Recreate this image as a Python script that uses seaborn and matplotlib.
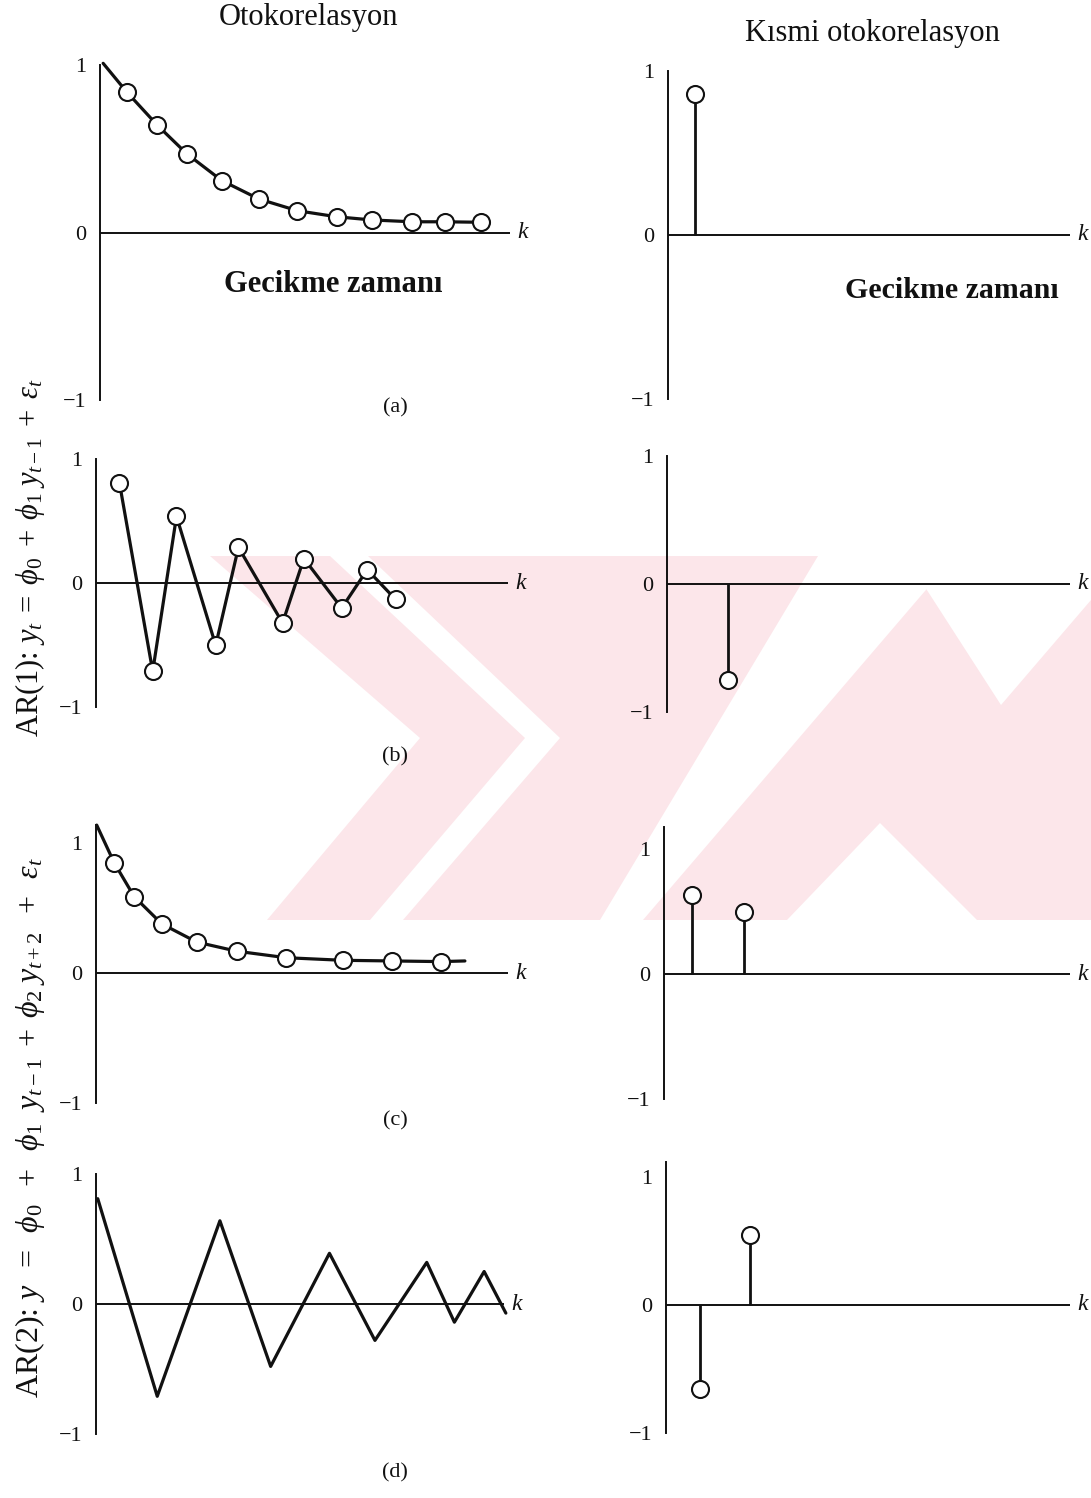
import matplotlib
matplotlib.use("Agg")
import matplotlib.pyplot as plt
from matplotlib.patches import Polygon
import seaborn as sns

W, H, DPI = 1091, 1498, 100

# ---- autocorrelation values (left column) ----
acf_a_lag = [0.76, 1.64, 2.48, 3.48, 4.54, 5.64, 6.76, 7.76, 8.91, 9.86, 10.88]
acf_a_val = [0.84, 0.64, 0.47, 0.31, 0.20, 0.13, 0.094, 0.075, 0.064, 0.064, 0.061]
acf_a_start_lag, acf_a_start_val = 0.09, 1.01

acf_b_lag = [0.67, 1.62, 2.30, 3.42, 4.07, 5.33, 5.94, 7.02, 7.75, 8.56]
acf_b_val = [0.81, -0.71, 0.54, -0.50, 0.29, -0.32, 0.20, -0.20, 0.11, -0.13]

acf_c_lag = [0.52, 1.09, 1.88, 2.88, 4.02, 5.43, 7.05, 8.45, 9.85]
acf_c_val = [0.85, 0.59, 0.38, 0.24, 0.17, 0.12, 0.10, 0.095, 0.09]
acf_c_start_lag, acf_c_start_val = 0.02, 1.14
acf_c_end_lag, acf_c_end_val = 10.54, 0.095

acf_d_lag = [0.05, 1.75, 3.54, 4.99, 6.67, 7.97, 9.45, 10.24, 11.09, 11.71]
acf_d_val = [0.81, -0.71, 0.64, -0.48, 0.39, -0.28, 0.32, -0.14, 0.25, -0.07]

# ---- partial autocorrelation values (right column) ----
pacf_a_lag, pacf_a_val = [0.77], [0.86]
pacf_b_lag, pacf_b_val = [1.74], [-0.75]
pacf_c_lag, pacf_c_val = [0.79, 2.29], [0.63, 0.50]
pacf_d_lag, pacf_d_val = [0.97, 2.40], [-0.66, 0.55]

tick_values = [-1, 0, 1]
tick_labels = ["\u22121", "0", "1"]

sns.set_theme(style="white")
plt.rcParams["font.family"] = ["Liberation Serif", "DejaVu Serif"]
plt.rcParams["mathtext.fontset"] = "custom"
plt.rcParams["mathtext.rm"] = "Liberation Serif"
plt.rcParams["mathtext.it"] = "Liberation Serif:italic"
plt.rcParams["mathtext.bf"] = "Liberation Serif:bold"

fig = plt.figure(figsize=(W / DPI, H / DPI), dpi=DPI)
fig.patch.set_facecolor("white")

PX_PER_LAG = 35.0
INK = "#111111"
WATERMARK = "#fce6ea"


def fig_poly(points, color, z):
    pts = [(x / W, 1 - y / H) for x, y in points]
    fig.add_artist(Polygon(pts, closed=True, transform=fig.transFigure,
                           facecolor=color, edgecolor="none", zorder=z))


# pale page watermark behind the panels
fig_poly([(200, 556), (1091, 556), (1091, 920), (200, 920)], WATERMARK, -3)
for cut in [
    [(0, 556), (210, 556), (420, 738), (267, 920), (0, 920)],
    [(330, 556), (368, 556), (560, 738), (403, 920), (370, 920), (525, 738)],
    [(818, 556), (955, 556), (643, 920), (600, 920)],
    [(787, 920), (977, 920), (880, 823)],
    [(905, 556), (1001, 705), (1091, 600), (1091, 556)],
]:
    fig_poly(cut, "white", -2)


def panel(x0, xend, y0, upx, ytop=1.0, ybot=-1.0):
    """Axes whose vertical axis sits at pixel x0 and zero line at pixel y0."""
    left = x0 / W
    width = (xend - x0) / W
    top_px = y0 - upx * ytop
    bot_px = y0 - upx * ybot
    ax = fig.add_axes([left, 1 - bot_px / H, width, (bot_px - top_px) / H])
    ax.set_xlim(0, (xend - x0) / PX_PER_LAG)
    ax.set_ylim(ybot, ytop)
    ax.set_facecolor("none")
    for s in ["top", "right", "bottom"]:
        ax.spines[s].set_visible(False)
    ax.spines["left"].set_color(INK)
    ax.spines["left"].set_linewidth(1.4)
    ax.axhline(0, color=INK, lw=1.4, zorder=1)
    ax.set_xticks([])
    ax.set_yticks(tick_values)
    ax.set_yticklabels(tick_labels, fontsize=16, color=INK)
    ax.tick_params(axis="y", length=0, pad=10)
    ax.annotate("$k$", xy=(1.0, 0), xycoords=ax.get_yaxis_transform(),
                xytext=(5, 0), textcoords="offset points", ha="left",
                va="center", fontsize=17, color=INK, annotation_clip=False)
    return ax


def markers(ax, lag, val):
    sns.scatterplot(x=lag, y=val, ax=ax, s=150, color="white", edgecolor=INK,
                    linewidth=1.5, zorder=5, clip_on=False, legend=False)


def stems(ax, lag, val):
    ax.vlines(lag, 0, val, color=INK, lw=2.0, zorder=3)
    markers(ax, lag, val)


# (a) left
ax = panel(100, 510, 232.5, 167.5)
sns.lineplot(x=[acf_a_start_lag] + acf_a_lag, y=[acf_a_start_val] + acf_a_val,
             ax=ax, color=INK, lw=2.3, sort=False, estimator=None, clip_on=False)
markers(ax, acf_a_lag, acf_a_val)

# (b) left
ax = panel(96, 508, 583.3, 124)
sns.lineplot(x=acf_b_lag, y=acf_b_val, ax=ax, color=INK, lw=2.3, sort=False,
             estimator=None)
markers(ax, acf_b_lag, acf_b_val)

# (c) left
ax = panel(96, 508, 973.3, 130, ytop=1.14)
sns.lineplot(x=[acf_c_start_lag] + acf_c_lag + [acf_c_end_lag],
             y=[acf_c_start_val] + acf_c_val + [acf_c_end_val],
             ax=ax, color=INK, lw=2.3, sort=False, estimator=None, clip_on=False)
markers(ax, acf_c_lag, acf_c_val)

# (d) left
ax = panel(96, 504, 1304, 130)
sns.lineplot(x=acf_d_lag, y=acf_d_val, ax=ax, color=INK, lw=2.3, sort=False,
             estimator=None, clip_on=False)

# right column
RIGHT_END = 1070
ax = panel(668, RIGHT_END, 235, 164)
stems(ax, pacf_a_lag, pacf_a_val)
ax = panel(667, RIGHT_END, 584, 128)
stems(ax, pacf_b_lag, pacf_b_val)
ax = panel(664, RIGHT_END, 974, 125, ytop=1.18)
stems(ax, pacf_c_lag, pacf_c_val)
ax = panel(666, RIGHT_END, 1305, 128, ytop=1.12)
stems(ax, pacf_d_lag, pacf_d_val)


def ftext(x, y, s, **kw):
    fig.text(x / W, 1 - y / H, s, ha="center", va="center", color=INK, **kw)


ftext(309, 18, "Otokorelasyon", fontsize=22)
ftext(872, 33, "K\u0131smi otokorelasyon", fontsize=22)
ftext(333, 284, "Gecikme zaman\u0131", fontsize=22, fontweight="bold")
ftext(952, 290, "Gecikme zaman\u0131", fontsize=21.5, fontweight="bold")
for lab, yy in [("(a)", 408), ("(b)", 757), ("(c)", 1121), ("(d)", 1473)]:
    ftext(395, yy, lab, fontsize=16)

ftext(30, 557,
      r"AR(1): $y_t\;=\;\phi_0\;+\;\phi_1\;y_{t-1}\;+\;\epsilon_t$",
      fontsize=22, rotation=90)
ftext(30, 1128,
      r"AR(2): $y\;\;=\;\;\phi_0\;\;+\;\;\phi_1\;\;y_{t-1}\;+\;\phi_2\;y_{t+2}"
      r"\;\;+\;\;\epsilon_t$",
      fontsize=23, rotation=90)

fig.savefig("out.png", dpi=DPI, facecolor="white")
